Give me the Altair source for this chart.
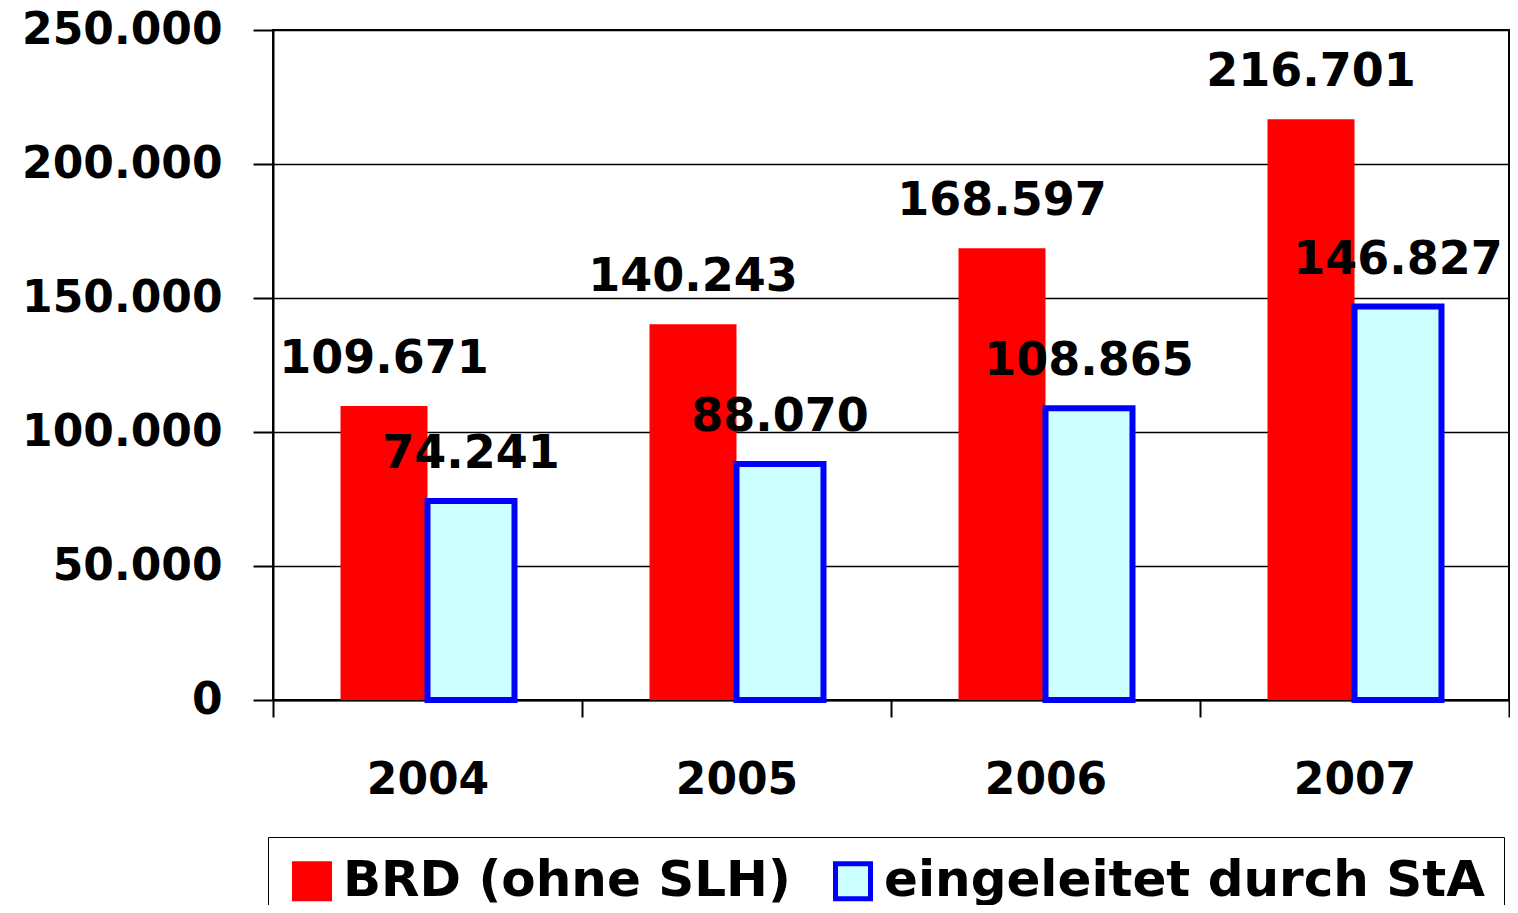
import altair as alt
import pandas as pd

years = ["2004", "2005", "2006", "2007"]
series = ["BRD (ohne SLH)", "eingeleitet durch StA"]
brd = [109671, 140243, 168597, 216701]
sta = [74241, 88070, 108865, 146827]
y_ticks = [0, 50000, 100000, 150000, 200000, 250000]

rows = []
for s, vals in zip(series, [brd, sta]):
    for yr, v in zip(years, vals):
        rows.append({"Jahr": yr, "Serie": s, "Wert": v,
                     "Label": f"{v:,}".replace(",", ".")})
df = pd.DataFrame(rows)

FONT = "DejaVu Sans"

x_enc = alt.X("Jahr:N", sort=years,
              scale=alt.Scale(paddingInner=0, paddingOuter=0),
              axis=alt.Axis(title=None, labelAngle=0, tickBand="extent",
                            tickSize=17, labelFontSize=44,
                            labelBaseline="alphabetic", labelPadding=76,
                            grid=False))
xoff_enc = alt.XOffset("Serie:N", sort=series,
                       scale=alt.Scale(domain=series, paddingInner=0,
                                       paddingOuter=0.776))
y_enc = alt.Y("Wert:Q",
              scale=alt.Scale(domain=[0, 250000], nice=False, zero=True),
              axis=alt.Axis(title=None, values=y_ticks, tickSize=20,
                            labelPadding=31, labelFontSize=44, labelLimit=400,
                            labelExpr="replace(format(datum.value, ','), ',', '.')",
                            grid=True))

base = alt.Chart(df).encode(x=x_enc, xOffset=xoff_enc, y=y_enc)

leg = alt.Legend(title=None, orient="none", direction="horizontal",
                 legendX=-5, legendY=807)

bars = base.mark_bar().encode(
    fill=alt.Fill("Serie:N", sort=series,
                  scale=alt.Scale(domain=series, range=["#FF0000", "#CCFFFF"]),
                  legend=leg),
    stroke=alt.Stroke("Serie:N", sort=series,
                      scale=alt.Scale(domain=series, range=["#FF0000", "#0000FF"]),
                      legend=leg),
    strokeWidth=alt.condition(alt.datum.Serie == series[0],
                              alt.value(0), alt.value(6)),
)

labels = base.mark_text(baseline="alphabetic", dy=-33, fontSize=46,
                        font=FONT, fontWeight="bold", color="black").encode(
    text="Label:N")

chart = alt.layer(bars, labels).properties(
    width=1236, height=670,
    autosize=alt.AutoSizeParams(type="none"),
    padding={"left": 265, "top": 22, "right": 1, "bottom": 205},
).configure_view(
    stroke="black", strokeWidth=2
).configure_axis(
    domainColor="black", domainWidth=2, tickColor="black", tickWidth=2,
    gridColor="black", gridWidth=1.5, labelFont=FONT,
    labelFontWeight="bold", labelColor="black"
).configure_legend(
    labelFont=FONT, labelFontWeight="bold", labelFontSize=50,
    labelColor="black", symbolType="square", symbolSize=1225,
    symbolStrokeWidth=5, labelOffset=6, columnPadding=34, padding=19,
    strokeColor="black", fillColor="white", labelLimit=1000,
    symbolOpacity=1
)

chart.save("out.html", embed_options={"renderer": "svg", "actions": False})
